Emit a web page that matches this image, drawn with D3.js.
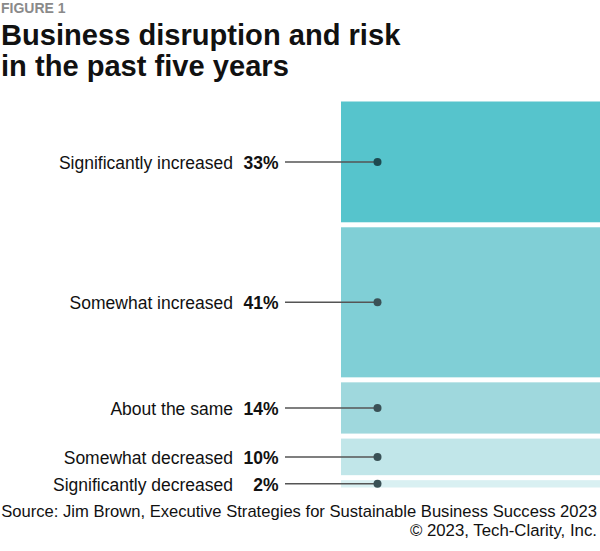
<!DOCTYPE html>
<html>
<head>
<meta charset="utf-8">
<script src="https://cdn.jsdelivr.net/npm/d3@7"></script>
<style>
  body { margin: 0; background: #fff; }
  svg { display: block; font-family: "Liberation Sans", Arial, Helvetica, sans-serif; }
</style>
</head>
<body>
<script>
// survey answers, top to bottom
const categories = ["Significantly increased", "Somewhat increased", "About the same", "Somewhat decreased", "Significantly decreased"];
const values = [33, 41, 14, 10, 2];
const colors = ["#56c4cc", "#80cfd6", "#9fd8dd", "#c1e6e9", "#d9f0f2"];
const dotColors = ["#1d4a50", "#3a5156", "#3a5156", "#3a5156", "#3a5156"];

const w = 600, h = 551;
const topY = 101.5, gap = 5;
const barX = 341;

const svg = d3.select("body").append("svg")
    .attr("width", w)
    .attr("height", h);

// heights proportional to share, bars stacked with small gaps
const yScale = d3.scaleLinear()
    .domain([0, d3.sum(values)])
    .range([0, 386 - gap * (values.length - 1)]);

const cum = d3.cumsum(values);
const rows = values.map((v, i) => {
    const y0 = topY + yScale(cum[i] - v) + i * gap;
    const hh = yScale(v);
    return { cat: categories[i], v: v, y: y0, h: hh, mid: y0 + hh / 2, i: i };
});

svg.selectAll("rect.bar")
    .data(rows)
    .enter()
    .append("rect")
    .attr("class", "bar")
    .attr("x", barX)
    .attr("y", d => d.y)
    .attr("width", w - barX)
    .attr("height", d => d.h)
    .attr("fill", d => colors[d.i]);

// leader lines
svg.selectAll("line.lead")
    .data(rows)
    .enter()
    .append("line")
    .attr("x1", 285)
    .attr("x2", 377.5)
    .attr("y1", d => d.mid)
    .attr("y2", d => d.mid)
    .attr("stroke", "#555")
    .attr("stroke-width", 1.5);

svg.selectAll("circle")
    .data(rows)
    .enter()
    .append("circle")
    .attr("cx", 377.5)
    .attr("cy", d => d.mid)
    .attr("r", 4)
    .attr("fill", d => dotColors[d.i]);

// labels
svg.selectAll("text.cat")
    .data(rows)
    .enter()
    .append("text")
    .attr("class", "cat")
    .attr("x", 233)
    .attr("y", d => d.mid + 7)
    .attr("text-anchor", "end")
    .style("font-size", "17.5px")
    .style("fill", "#111")
    .text(d => d.cat);

svg.selectAll("text.pct")
    .data(rows)
    .enter()
    .append("text")
    .attr("class", "pct")
    .attr("x", 278.5)
    .attr("y", d => d.mid + 7)
    .attr("text-anchor", "end")
    .style("font-size", "17.5px")
    .style("font-weight", "bold")
    .style("fill", "#111")
    .text(d => d.v + "%");

// header
svg.append("text")
    .attr("x", 1)
    .attr("y", 12.5)
    .style("font-size", "14px")
    .style("font-weight", "bold")
    .style("fill", "#8a8a8a")
    .text("FIGURE 1");

svg.append("text")
    .attr("x", 1)
    .attr("y", 44.5)
    .style("font-size", "29.1px")
    .style("font-weight", "bold")
    .style("fill", "#111")
    .text("Business disruption and risk");

svg.append("text")
    .attr("x", 1)
    .attr("y", 76)
    .style("font-size", "29.1px")
    .style("font-weight", "bold")
    .style("fill", "#111")
    .text("in the past five years");

// footer
svg.append("text")
    .attr("x", 597)
    .attr("y", 517)
    .attr("text-anchor", "end")
    .style("font-size", "16.6px")
    .style("fill", "#111")
    .text("Source: Jim Brown, Executive Strategies for Sustainable Business Success 2023");

svg.append("text")
    .attr("x", 597)
    .attr("y", 536)
    .attr("text-anchor", "end")
    .style("font-size", "16.8px")
    .style("fill", "#111")
    .text("© 2023, Tech-Clarity, Inc.");
</script>
</body>
</html>
